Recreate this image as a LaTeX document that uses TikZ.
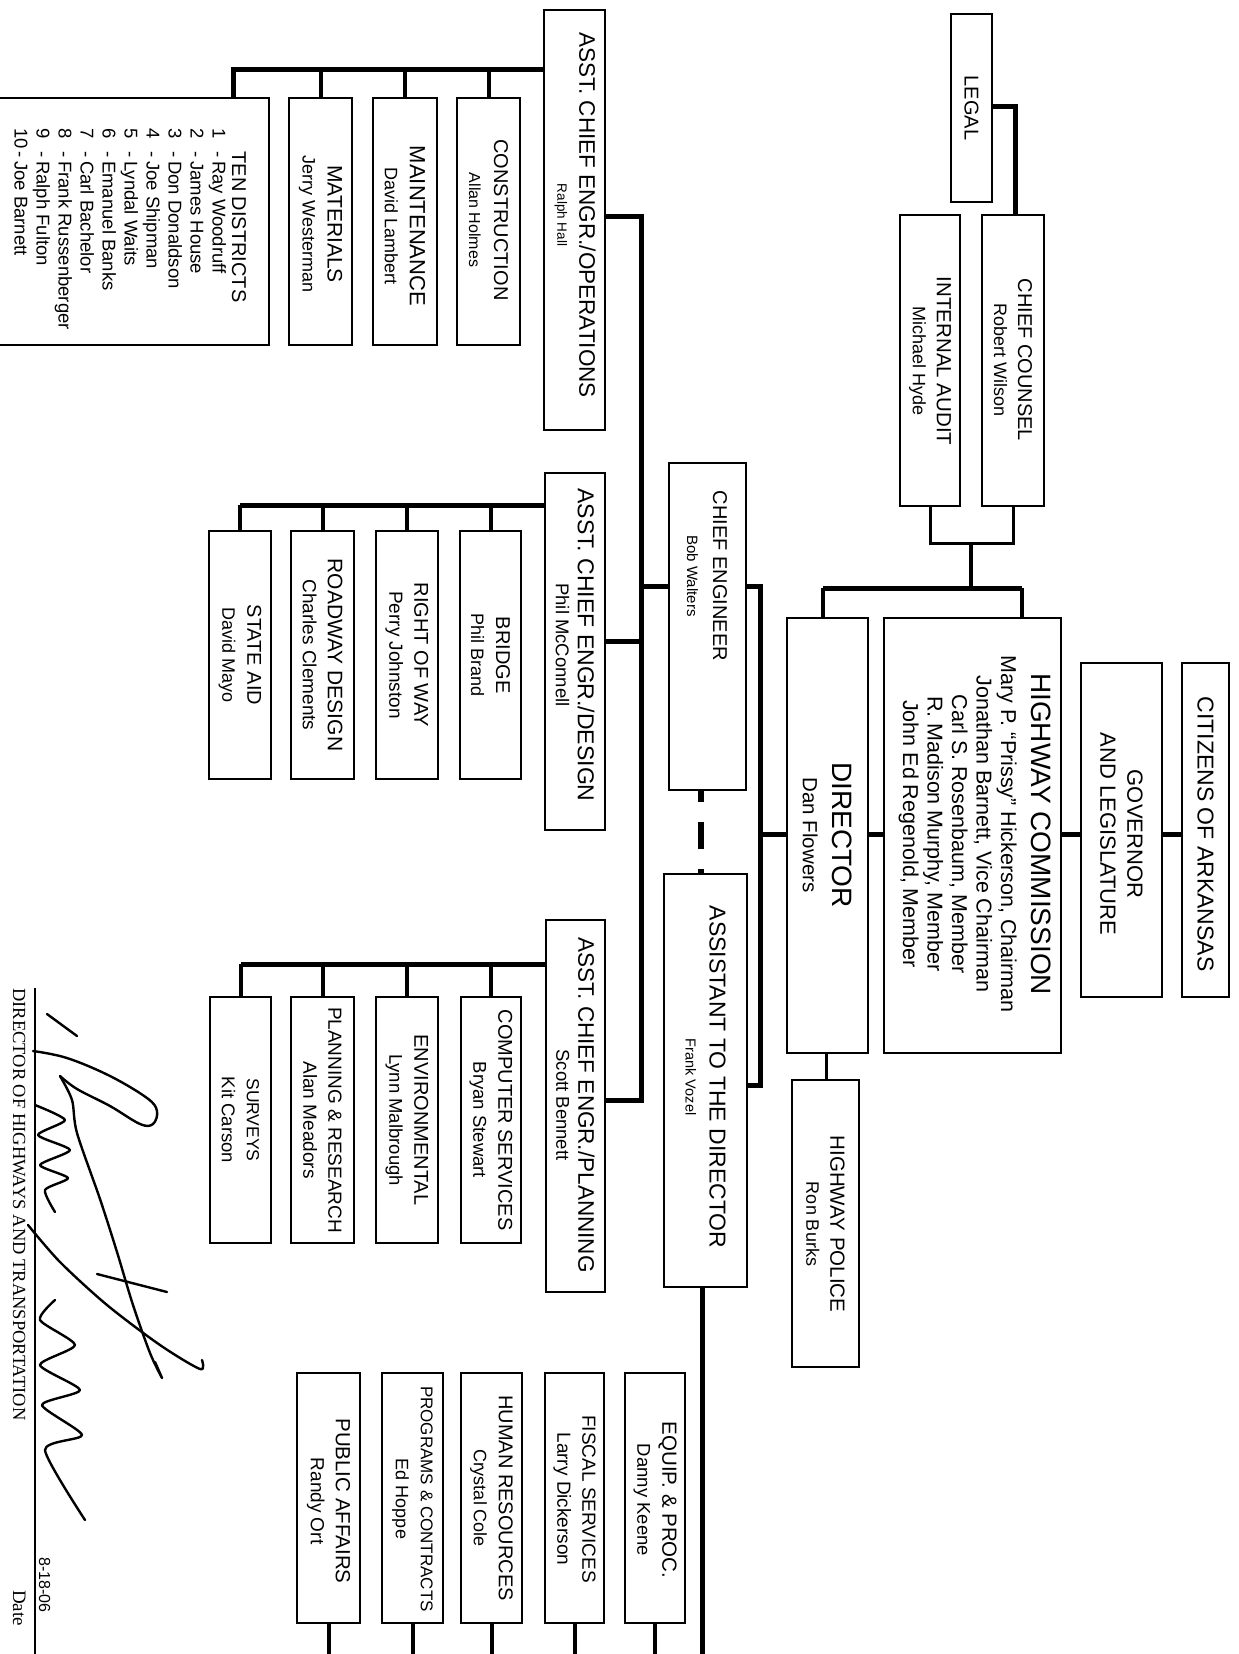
\documentclass[tikz,border=0pt]{standalone}
\usepackage{fontspec}
\setmainfont{Liberation Sans}
\newfontfamily\sigserif{Liberation Serif}
\newcommand\setfs[2]{\fontsize{#1}{#2}\selectfont}
\tikzset{
  box/.style={draw, line width=2.2pt, inner sep=0pt},
  lbl/.style={rotate=-90, align=center, inner sep=0pt},
  lst/.style={rotate=-90, inner sep=0pt, anchor=base west, font=\setfs{18.5}{22}},
  conn/.style={line width=5pt},
  drop/.style={line width=4pt},
  lightconn/.style={line width=3pt},
  dashconn/.style={line width=6.5pt, dash pattern=on 27pt off 20pt, dash phase=16pt},
  sig/.style={line width=2.4pt, line cap=round, line join=round},
  sigline/.style={line width=1.3pt},
}
\newcommand\distline[2]{\makebox[23pt][l]{#1}\makebox[10pt][l]{-}#2}
\begin{document}
\begin{tikzpicture}[x=1pt, y=-1pt]
\fill[white] (0,0) rectangle (1239,1654);
\useasboundingbox (0,0) rectangle (1239,1654);

% ---------------- boxes ----------------
\node[box, minimum width=61pt, minimum height=420pt] (ops) at (574.5,220) {};
\node[box, minimum width=63pt, minimum height=247pt] (constr) at (488.5,221.5) {};
\node[box, minimum width=64pt, minimum height=247pt] (maint) at (405,221.5) {};
\node[box, minimum width=63pt, minimum height=247pt] (mater) at (320.5,221.5) {};
\node[box, minimum width=279pt, minimum height=247pt] (tend) at (129.5,221.5) {};

\node[box, minimum width=41pt, minimum height=188pt] (legal) at (971.5,108) {};
\node[box, minimum width=62pt, minimum height=291pt] (cc) at (1013,360.5) {};
\node[box, minimum width=60pt, minimum height=291pt] (ia) at (930,360.5) {};

\node[box, minimum width=77pt, minimum height=327pt] (ce) at (707.5,626.5) {};
\node[box, minimum width=60pt, minimum height=357pt] (design) at (575,651.5) {};
\node[box, minimum width=61pt, minimum height=248pt] (bridge) at (490.5,655) {};
\node[box, minimum width=62pt, minimum height=248pt] (row) at (407,655) {};
\node[box, minimum width=63pt, minimum height=248pt] (road) at (322.5,655) {};
\node[box, minimum width=62pt, minimum height=248pt] (state) at (240,655) {};

\node[box, minimum width=81pt, minimum height=435pt] (director) at (827.5,835.5) {};
\node[box, minimum width=177pt, minimum height=435pt] (comm) at (972.5,835.5) {};
\node[box, minimum width=81pt, minimum height=334pt] (gov) at (1121.5,830) {};
\node[box, minimum width=47pt, minimum height=334pt] (cit) at (1205.5,830) {};

\node[box, minimum width=83pt, minimum height=413pt] (asst) at (705.5,1080.5) {};
\node[box, minimum width=67pt, minimum height=287pt] (police) at (825.5,1223.5) {};

\node[box, minimum width=59pt, minimum height=372pt] (planning) at (575.5,1106) {};
\node[box, minimum width=60pt, minimum height=246pt] (comp) at (491,1120) {};
\node[box, minimum width=62pt, minimum height=246pt] (env) at (407,1120) {};
\node[box, minimum width=63pt, minimum height=246pt] (planres) at (322.5,1120) {};
\node[box, minimum width=61pt, minimum height=246pt] (surveys) at (240.5,1120) {};

\node[box, minimum width=60pt, minimum height=250pt] (equip) at (655,1498) {};
\node[box, minimum width=59pt, minimum height=250pt] (fiscal) at (574.5,1498) {};
\node[box, minimum width=61pt, minimum height=250pt] (hr) at (491.5,1498) {};
\node[box, minimum width=61pt, minimum height=250pt] (prog) at (412.5,1498) {};
\node[box, minimum width=63pt, minimum height=250pt] (public) at (328.5,1498) {};

% ---------------- labels ----------------
\node[lbl, font=\setfs{20}{22}] (ops-t) at (575,215) {{\setfs{22.5}{22}ASST. CHIEF ENGR./OPERATIONS}\\{\setfs{13.5}{22}Ralph Hall}};
\node[lbl, font=\setfs{18}{25}] (constr-t) at (488.5,220) {{\setfs{20}{25}CONSTRUCTION}\\{\setfs{16}{25}Allan Holmes}};
\node[lbl, font=\setfs{18}{25}] (maint-t) at (405,226) {{\setfs{22}{25}MAINTENANCE}\\{\setfs{18}{25}David Lambert}};
\node[lbl, font=\setfs{18}{25}] (mater-t) at (320.5,224) {{\setfs{21}{25}MATERIALS}\\{\setfs{18}{25}Jerry Westerman}};
\node[lbl, font=\setfs{20}{22}] (tend-t) at (239,227) {TEN DISTRICTS};
\node[lst] (d1) at (212.5,128) {\distline{1}{Ray Woodruff}};
\node[lst] (d2) at (190.5,128) {\distline{2}{James House}};
\node[lst] (d3) at (168.5,128) {\distline{3}{Don Donaldson}};
\node[lst] (d4) at (146.5,128) {\distline{4}{Joe Shipman}};
\node[lst] (d5) at (124.5,128) {\distline{5}{Lyndal Waits}};
\node[lst] (d6) at (102.5,128) {\distline{6}{Emanuel Banks}};
\node[lst] (d7) at (80.5,128) {\distline{7}{Carl Bachelor}};
\node[lst] (d8) at (58.5,128) {\distline{8}{Frank Russenberger}};
\node[lst] (d9) at (36.5,128) {\distline{9}{Ralph Fulton}};
\node[lst] (d10) at (14.5,128) {\distline{10}{Joe Barnett}};

\node[lbl, font=\setfs{20}{22}] (legal-t) at (971.5,108) {LEGAL};
\node[lbl, font=\setfs{18}{24}] (cc-t) at (1013,360) {{\setfs{20}{24}CHIEF COUNSEL}\\{\setfs{18}{24}Robert Wilson}};
\node[lbl, font=\setfs{18}{24}] (ia-t) at (930,361) {{\setfs{20.5}{24}INTERNAL AUDIT}\\{\setfs{18}{24}Michael Hyde}};

\node[lbl, font=\setfs{18}{26}] (ce-t) at (707,576) {{\setfs{20}{26}CHIEF ENGINEER}\\{\setfs{15}{26}Bob Walters}};
\node[lbl, font=\setfs{20}{22}] (design-t) at (575,645) {{\setfs{23}{22}ASST. CHIEF ENGR./DESIGN}\\{\setfs{18.5}{22}Phil McConnell}};
\node[lbl, font=\setfs{18}{25}] (bridge-t) at (490.5,655) {{\setfs{20}{25}BRIDGE}\\{\setfs{18}{25}Phil Brand}};
\node[lbl, font=\setfs{18}{25}] (row-t) at (407,655) {{\setfs{20}{25}RIGHT OF WAY}\\{\setfs{19}{25}Perry Johnston}};
\node[lbl, font=\setfs{18}{25}] (road-t) at (322.5,655) {{\setfs{21}{25}ROADWAY DESIGN}\\{\setfs{19}{25}Charles Clements}};
\node[lbl, font=\setfs{18}{25}] (state-t) at (240,655) {{\setfs{20}{25}STATE AID}\\{\setfs{18}{25}David Mayo}};

\node[lbl, font=\setfs{20}{30}] (director-t) at (827.5,835) {{\setfs{28}{30}DIRECTOR}\\{\setfs{20.5}{30}Dan Flowers}};
\node[lbl, font=\setfs{21.5}{24.5}] (comm-t) at (975,834) {{\setfs{28}{30}HIGHWAY COMMISSION}\\[6pt]Mary P. ``Prissy'' Hickerson, Chairman\\Jonathan Barnett, Vice Chairman\\Carl S. Rosenbaum, Member\\R. Madison Murphy, Member\\John Ed Regenold, Member};
\node[lbl, font=\setfs{22}{27}] (gov-t) at (1121.5,834) {GOVERNOR\\AND LEGISLATURE};
\node[lbl, font=\setfs{23}{27}] (cit-t) at (1205.5,834) {CITIZENS OF ARKANSAS};

\node[lbl, font=\setfs{18}{24}] (asst-t) at (705.5,1077) {{\setfs{23}{24}ASSISTANT TO THE DIRECTOR}\\{\setfs{14.5}{24}Frank Vozel}};
\node[lbl, font=\setfs{18}{24}] (police-t) at (825.5,1224) {{\setfs{20.5}{24}HIGHWAY POLICE}\\{\setfs{18}{24}Ron Burks}};

\node[lbl, font=\setfs{20}{22}] (planning-t) at (575.5,1105) {{\setfs{22.5}{22}ASST. CHIEF ENGR./PLANNING}\\{\setfs{18.5}{22}Scott Bennett}};
\node[lbl, font=\setfs{18}{25}] (comp-t) at (491,1120) {{\setfs{20}{25}COMPUTER SERVICES}\\{\setfs{18.5}{25}Bryan Stewart}};
\node[lbl, font=\setfs{18}{25}] (env-t) at (407,1120) {{\setfs{20}{25}ENVIRONMENTAL}\\{\setfs{18.5}{25}Lynn Malbrough}};
\node[lbl, font=\setfs{18}{25}] (planres-t) at (322.5,1120) {{\setfs{19}{25}PLANNING \& RESEARCH}\\{\setfs{19}{25}Alan Meadors}};
\node[lbl, font=\setfs{18}{25}] (surveys-t) at (240.5,1120) {{\setfs{17.5}{25}SURVEYS}\\{\setfs{18.5}{25}Kit Carson}};

\node[lbl, font=\setfs{18}{25}] (equip-t) at (655,1500) {{\setfs{20.5}{25}EQUIP. \& PROC.}\\{\setfs{18.5}{25}Danny Keene}};
\node[lbl, font=\setfs{18}{25}] (fiscal-t) at (574.5,1499) {{\setfs{19}{25}FISCAL SERVICES}\\{\setfs{19}{25}Larry Dickerson}};
\node[lbl, font=\setfs{18}{25}] (hr-t) at (491.5,1498) {{\setfs{20}{25}HUMAN RESOURCES}\\{\setfs{18}{25}Crystal Cole}};
\node[lbl, font=\setfs{18}{25}] (prog-t) at (412.5,1499) {{\setfs{17}{25}PROGRAMS \& CONTRACTS}\\{\setfs{18}{25}Ed Hoppe}};
\node[lbl, font=\setfs{18}{25}] (public-t) at (328.5,1501) {{\setfs{20.5}{25}PUBLIC AFFAIRS}\\{\setfs{19}{25}Randy Ort}};

% ---------------- connectors ----------------
\coordinate (opsbus) at (544,70);
\draw[conn] (ops.west |- opsbus) -- (233,70) -- (tend.north -| 233,0);
\draw[drop] (constr.north |- opsbus) -- (constr.north);
\draw[drop] (maint.north |- opsbus) -- (maint.north);
\draw[drop] (mater.north |- opsbus) -- (mater.north);

\coordinate (sptop) at (641,216);
\coordinate (spbot) at (641,1100);
\draw[conn] (ops.east |- sptop) -- (sptop) -- (spbot) -- (planning.east |- spbot);
\draw[conn] (design.east |- 0,641) -- (641,641);
\draw[conn] (641,586) -- (ce.west |- 0,586);
\draw[conn] (ce.east |- 0,586) -- (760,586) -- (760,1085) -- (asst.east |- 0,1085);
\draw[conn] (760,834) -- (director.west |- 0,834);
\draw[conn] (director.east |- 0,834) -- (comm.west |- 0,834);
\draw[conn] (comm.east |- 0,834) -- (gov.west |- 0,834);
\draw[conn] (gov.east |- 0,834) -- (cit.west |- 0,834);
\draw[dashconn] (ce.south -| 701,0) -- (asst.north -| 701,0);
\coordinate (botend) at (702,1662);
\draw[conn] (asst.south -| botend) -- (botend);
\draw[lightconn] (director.south -| 826,0) -- (police.north -| 826,0);

\draw[conn] (legal.east |- 0,106) -- (1015,106) -- (cc.north -| 1015,0);
\draw[lightconn] (ia.south) -- (ia.south |- 0,543) -- (cc.south |- 0,543) -- (cc.south);
\draw[drop] (971,543) -- (971,588);
\draw[conn] (823,588) -- (1022,588);
\draw[drop] (823,588) -- (director.north -| 823,0);
\draw[drop] (1022,588) -- (comm.north -| 1022,0);

\coordinate (desbus) at (545,505);
\draw[conn] (design.west |- desbus) -- (state.north |- desbus);
\foreach \n in {bridge,row,road,state} \draw[drop] (\n.north |- desbus) -- (\n.north);

\coordinate (plbus) at (546,964);
\draw[conn] (planning.west |- plbus) -- (surveys.north |- plbus);
\foreach \n in {comp,env,planres,surveys} \draw[drop] (\n.north |- plbus) -- (\n.north);

\foreach \n in {equip,fiscal,hr,prog,public} \draw[drop] (\n.south) -- (\n.south |- 0,1662);

% ---------------- signature block ----------------
\draw[sigline] (35,988) -- (35,1662);
\node[rotate=-90, anchor=base west, inner sep=0pt, font=\sigserif\setfs{18.5}{20}] (sigt) at (13,988) {DIRECTOR OF HIGHWAYS AND TRANSPORTATION};
\node[rotate=-90, anchor=base west, inner sep=0pt, font=\setfs{16}{18}] (sigd) at (39,1557) {8-18-06};
\node[rotate=-90, anchor=base west, inner sep=0pt, font=\sigserif\setfs{19}{20}] (sigdate) at (13,1590) {Date};

\draw[sig] (47,1014) -- (77,1036);
\draw[sig] plot[smooth, tension=0.6] coordinates {(33,1051) (67,1058) (110,1076) (147,1098) (157,1111) (153,1124) (140,1124) (110,1106) (77,1089) (60,1076)};
\draw[sig] plot[smooth, tension=0.5] coordinates {(60,1076) (72,1100) (77,1133) (100,1199) (117,1252) (133,1305) (150,1353) (162,1378) (155,1362)};
\draw[sig] plot[smooth, tension=0.4] coordinates {(35,1105) (65,1120) (38,1135) (70,1150) (40,1165) (68,1178) (45,1190) (55,1212)};
\draw[sig] plot[smooth, tension=0.5] coordinates {(28,1225) (60,1262) (107,1305) (160,1345) (200,1369) (202,1360)};
\draw[sig] (97,1274) -- (167,1292);
\draw[sig] plot[smooth, tension=0.4] coordinates {(55,1300) (40,1320) (75,1345) (40,1365) (80,1390) (42,1405) (82,1435) (45,1450) (85,1520)};
\end{tikzpicture}
\end{document}
